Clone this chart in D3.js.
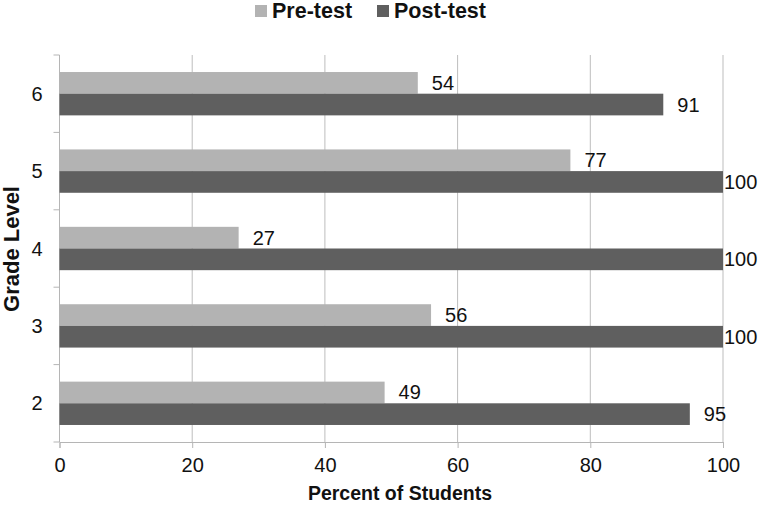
<!DOCTYPE html>
<html><head><meta charset="utf-8">
<script src="https://cdn.jsdelivr.net/npm/d3@7/dist/d3.min.js"></script>
<style>body{margin:0;background:#fff;}svg{display:block;font-family:"Liberation Sans",Arial,sans-serif;}</style>
</head><body><svg id="c" width="760" height="505"></svg>
<script>
const grades = ["6","5","4","3","2"];
const preTest = [54, 77, 27, 56, 49];
const postTest = [91, 100, 100, 100, 95];
const xTicks = [0, 20, 40, 60, 80, 100];
const seriesNames = ["Pre-test", "Post-test"];
const colors = ["#b3b3b3", "#5f5f5f"];

const svg = d3.select("#c");
const L = 59.5, R = 723, T = 55, B = 442;
const FS = 20;
const x = d3.scaleLinear().domain([0, 100]).range([L, R]);
const y = d3.scaleBand().domain(grades).range([T, B]).paddingInner(0.44).paddingOuter(0.22);
const sub = d3.scaleBand().domain(seriesNames).range([0, y.bandwidth()]);

// gridlines
svg.append("g").selectAll("line").data(xTicks.slice(1)).join("line")
  .attr("x1", d => x(d)).attr("x2", d => x(d)).attr("y1", T).attr("y2", B)
  .attr("stroke", "#bdbdbd").attr("stroke-width", 1);

// x axis
const xa = svg.append("g").attr("transform", `translate(0,${B})`)
  .call(d3.axisBottom(x).tickValues(xTicks).tickSize(6).tickPadding(10));
xa.select(".domain").attr("stroke", "#b5b5b5");
xa.selectAll(".tick line").attr("stroke", "#b5b5b5");
xa.selectAll("text").attr("font-size", FS).attr("fill", "#111").attr("font-family", "Liberation Sans, Arial, sans-serif");

// y axis
const yBound = d3.scaleLinear().domain([0, grades.length]).range([T, B]);
const ya = svg.append("g").attr("transform", `translate(${L},0)`);
ya.append("line").attr("y1", T).attr("y2", B).attr("stroke", "#b5b5b5");
ya.selectAll(".tk").data(d3.range(grades.length + 1)).join("line").attr("class", "tk")
  .attr("x1", -6).attr("x2", 0).attr("y1", d => yBound(d)).attr("y2", d => yBound(d)).attr("stroke", "#b5b5b5");
ya.selectAll("text").data(grades).join("text")
  .attr("x", -17).attr("y", d => y(d) + y.bandwidth() / 2).attr("dy", "0.35em")
  .attr("text-anchor", "end").attr("font-size", FS).attr("fill", "#111").text(d => d);

// bars
const data = grades.map((g, i) => ({g, vals: [preTest[i], postTest[i]]}));
const groups = svg.append("g").selectAll("g").data(data).join("g")
  .attr("transform", d => `translate(0,${y(d.g)})`);
groups.selectAll("rect").data(d => d.vals.map((v, j) => ({v, s: seriesNames[j], j}))).join("rect")
  .attr("x", x(0)).attr("y", d => sub(d.s)).attr("width", d => x(d.v) - x(0))
  .attr("height", sub.bandwidth()).attr("fill", d => colors[d.j]);
groups.selectAll("text").data(d => d.vals.map((v, j) => ({v, s: seriesNames[j], j}))).join("text")
  .attr("x", d => Math.min(x(d.v) + 14, R + 1)).attr("y", d => sub(d.s) + sub.bandwidth() / 2)
  .attr("dy", "0.35em").attr("font-size", FS).attr("fill", "#111").text(d => d.v);

// axis titles
svg.append("text").attr("x", 400).attr("y", 500).attr("text-anchor", "middle")
  .attr("font-size", 19.5).attr("font-weight", "bold").attr("fill", "#111").text("Percent of Students");
svg.append("text").attr("transform", "translate(19,249) rotate(-90)").attr("text-anchor", "middle")
  .attr("font-size", 22).attr("font-weight", "bold").attr("fill", "#111").text("Grade Level");

// legend
const leg = svg.append("g");
const legX = [255, 377];
seriesNames.forEach((n, i) => {
  leg.append("rect").attr("x", legX[i]).attr("y", 5).attr("width", 12).attr("height", 12).attr("fill", colors[i]);
  leg.append("text").attr("x", legX[i] + 17).attr("y", 18)
    .attr("font-size", 21.5).attr("font-weight", "bold").attr("fill", "#111").text(n);
});
</script></body></html>
